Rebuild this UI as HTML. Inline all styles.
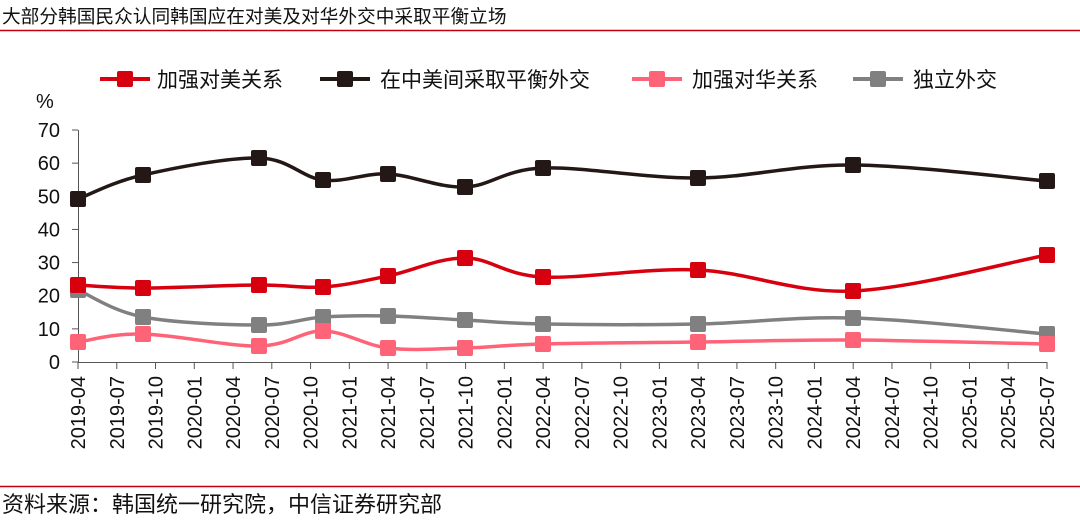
<!DOCTYPE html>
<html><head><meta charset="utf-8"><style>
body{margin:0;background:#fff;width:1080px;height:522px;overflow:hidden;font-family:"Liberation Sans","Noto Sans CJK SC",sans-serif}
</style></head><body>
<svg id="s" width="1080" height="522" xmlns="http://www.w3.org/2000/svg" font-family="Liberation Sans, Noto Sans CJK SC, sans-serif">
<text x="2" y="23" font-size="18.7" fill="#111">大部分韩国民众认同韩国应在对美及对华外交中采取平衡立场</text>
<line x1="0" y1="30.5" x2="1080" y2="30.5" stroke="#c00010" stroke-width="1.5"/>
<line x1="0" y1="486.5" x2="1080" y2="486.5" stroke="#c00010" stroke-width="1.5"/>
<text x="2" y="512" font-size="22" fill="#111">资料来源：韩国统一研究院，中信证券研究部</text>
<g font-size="21" fill="#111">
<line x1="100" y1="79" x2="150" y2="79" stroke="#d7000f" stroke-width="4"/><rect x="117" y="71" width="16" height="16" rx="2" fill="#d7000f"/><text x="157" y="87">加强对美关系</text>
<line x1="320" y1="79" x2="370" y2="79" stroke="#231815" stroke-width="4"/><rect x="337" y="71" width="16" height="16" rx="2" fill="#231815"/><text x="380" y="87">在中美间采取平衡外交</text>
<line x1="632" y1="79" x2="682" y2="79" stroke="#ff6378" stroke-width="4"/><rect x="649" y="71" width="16" height="16" rx="2" fill="#ff6378"/><text x="692" y="87">加强对华关系</text>
<line x1="853" y1="79" x2="903" y2="79" stroke="#808080" stroke-width="4"/><rect x="870" y="71" width="16" height="16" rx="2" fill="#808080"/><text x="913" y="87">独立外交</text>
</g>
<text x="36" y="108" font-size="20" fill="#111">%</text>
<g id="ax" stroke="#555" stroke-width="1"></g>
<g id="lb" font-size="20" fill="#111"></g>
<g id="ser"></g>
</svg>
<script>
var ns="http://www.w3.org/2000/svg",s=document.getElementById('s');
function el(p,t,a,txt){var e=document.createElementNS(ns,t);for(var k in a)e.setAttribute(k,a[k]);if(txt)e.textContent=txt;p.appendChild(e);return e;}
var ax=document.getElementById('ax'),lb=document.getElementById('lb');
var y0=362,ppu=(362-130)/70;
el(ax,'line',{x1:78.5,y1:130,x2:78.5,y2:362});
el(ax,'line',{x1:78,y1:362.5,x2:1047,y2:362.5});
for(var v=0;v<=70;v+=10){var y=y0-v*ppu;el(ax,'line',{x1:72,y1:y,x2:78,y2:y});el(lb,'text',{x:60,y:y+7,'text-anchor':'end'},String(v));}
var sp=(1047-78)/25,i=0;
for(var yr=2019;yr<=2025;yr++)for(var m=1;m<=10;m+=3){if(yr==2019&&m<4)continue;if(yr==2025&&m>7)continue;
var x=78+i*sp;el(ax,'line',{x1:x,y1:362,x2:x,y2:369});
el(lb,'text',{x:0,y:0,'text-anchor':'end',transform:'translate('+(x+7)+',376) rotate(-90)','font-size':'20'},yr+'-'+(m<10?'0':'')+m);i++;}
var S=[
['#808080',[[78,290],[143,317],[259,325],[323,317],[388,316],[465,320],[543,324],[698,324],[853,318],[1047,334]]],
['#ff6378',[[78,342],[143,334],[259,346],[323,331],[388,348],[465,348],[543,344],[698,342],[853,340],[1047,344]]],
['#d7000f',[[78,285],[143,288],[259,285],[323,287],[388,276],[465,258],[543,277],[698,270],[853,291],[1047,255]]],
['#231815',[[78,199],[143,175],[259,158],[323,180],[388,174],[465,187],[543,168],[698,178],[853,165],[1047,181]]]];
var g=document.getElementById('ser');
S.forEach(function(sr){var p=sr[1],d='M'+p[0][0]+','+p[0][1];
for(var k=0;k<p.length-1;k++){var a=p[k-1]||p[k],b=p[k],c=p[k+1],e=p[k+2]||c,t=0.17;
d+=' C'+(b[0]+(c[0]-a[0])*t)+','+(b[1]+(c[1]-a[1])*t)+' '+(c[0]-(e[0]-b[0])*t)+','+(c[1]-(e[1]-b[1])*t)+' '+c[0]+','+c[1];}
el(g,'path',{d:d,fill:'none',stroke:sr[0],'stroke-width':3.5});
p.forEach(function(q){el(g,'rect',{x:q[0]-8,y:q[1]-8,width:16,height:16,rx:2,fill:sr[0]});});});
</script>
</body></html>
